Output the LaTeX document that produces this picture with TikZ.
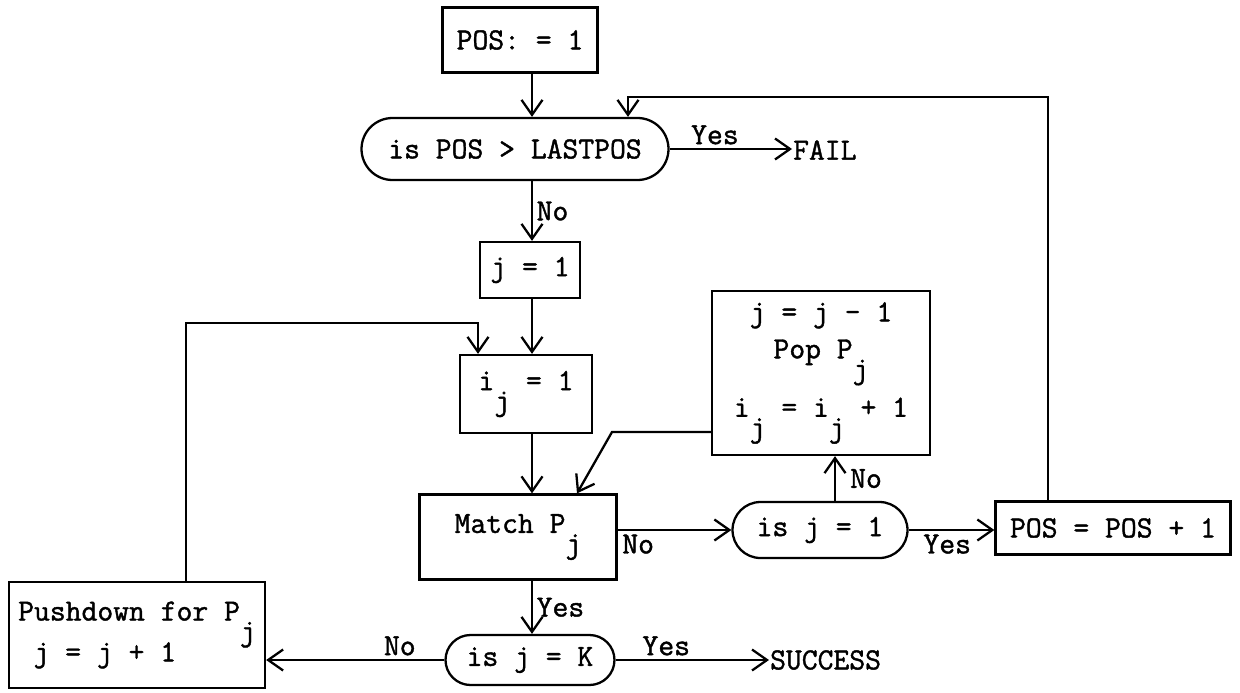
\documentclass[tikz,border=0pt]{standalone}
\usepackage{fontspec}
\usepackage{tikz}
\usetikzlibrary{arrows.meta,positioning,shapes.misc}

\newfontfamily\typed{Latin Modern Mono}[FakeBold=1.3]
\newcommand{\lowj}{\raisebox{-0.65em}{j}}

\begin{document}
\begin{tikzpicture}[x=0.2mm, y=-0.2mm,
    >={Straight Barb[length=3mm,width=4.2mm]},
    line width=1.3pt,
    every node/.append style={font=\typed\fontsize{17.5}{21}\selectfont, inner sep=2pt},
    blk/.style={draw, rectangle},
    test/.style={draw, rounded rectangle}]
   \useasboundingbox (0,0) rectangle (1240,692);

   \node [blk, minimum width=3.1cm, minimum height=1.3cm] (init) at (520,40) {POS: = 1};
   \node [test, minimum width=6.28cm, minimum height=1.24cm] (last) at (515,149) {is POS > LASTPOS};
   \node [anchor=west, inner sep=0] (fail) at (792,150) {FAIL};
   \node [blk, minimum width=2cm, minimum height=1.12cm] (jone) at (530,270) {j = 1};
   \node [blk, minimum width=2.64cm, minimum height=1.56cm] (ione) at (526,394) {i\lowj{} = 1};
   \node [blk, minimum width=3.94cm, minimum height=1.7cm] (match) at (518,537) {Match P\lowj};
   \node [blk, minimum width=4.36cm, minimum height=3.28cm, align=center] (pop) at (821,373)
      {j = j - 1\\Pop P\lowj\\[6pt]i\lowj{} = i\lowj{} + 1};
   \node [test, minimum width=3.64cm, minimum height=1.12cm] (jeq1) at (820,530) {is j = 1};
   \node [blk, minimum width=4.7cm, minimum height=1.06cm] (inc) at (1113,528) {POS = POS + 1};
   \node [test, minimum width=3.52cm, minimum height=1cm] (jeqk) at (530,660) {is j = K};
   \node [blk, minimum width=5.12cm, minimum height=2.12cm, align=left] (push) at (137,635)
      {Pushdown for P\lowj\\[-4pt]\hspace*{0.5em}j = j + 1};
   \node [anchor=west, inner sep=0] (success) at (769,660) {SUCCESS};

   \coordinate (col) at (532,0);
   \coordinate (upx) at (835,0);
   \coordinate (bend) at (612,432);
   \coordinate (hit) at (577,0);
   \coordinate (rx) at (1048,0);
   \coordinate (rtop) at (628,97);
   \coordinate (lx) at (186,0);
   \coordinate (ltop) at (478,323);

   % main column
   \draw[->] (init.south -| col) -- (last.north -| col);
   \draw[->] (last.south -| col) -- node[right] {No} (jone.north -| col);
   \draw[->] (jone.south -| col) -- (ione.north -| col);
   \draw[->] (ione.south -| col) -- (match.north -| col);
   \draw[->] (match.south -| col) -- node[right] {Yes} (jeqk.north -| col);

   \draw[->] (last.east) -- node[above, pos=0.37] {Yes} (last.east -| fail.west);
   \draw[->] (match.east |- jeq1.west) -- node[below right, pos=0] {No} (jeq1.west);
   \draw[->] (jeq1.east) -- node[below, pos=0.45] {Yes} (jeq1.east -| inc.west);
   \draw[->] (jeq1.north -| upx) -- node[right, xshift=6pt] {No} (pop.south -| upx);
   \draw[->] (pop.west |- bend) -- (bend) -- (match.north -| hit);
   \draw[->] (jeqk.west) -- node[above, pos=0.25] {No} (jeqk.west -| push.east);
   \draw[->] (jeqk.east) -- node[above, pos=0.33] {Yes} (success.west);

   % loops back
   \draw[->] (inc.north -| rx) |- (rtop) -- (last.north -| rtop);
   \draw[->] (push.north -| lx) |- (ltop) -- (ione.north -| ltop);
\end{tikzpicture}
\end{document}
